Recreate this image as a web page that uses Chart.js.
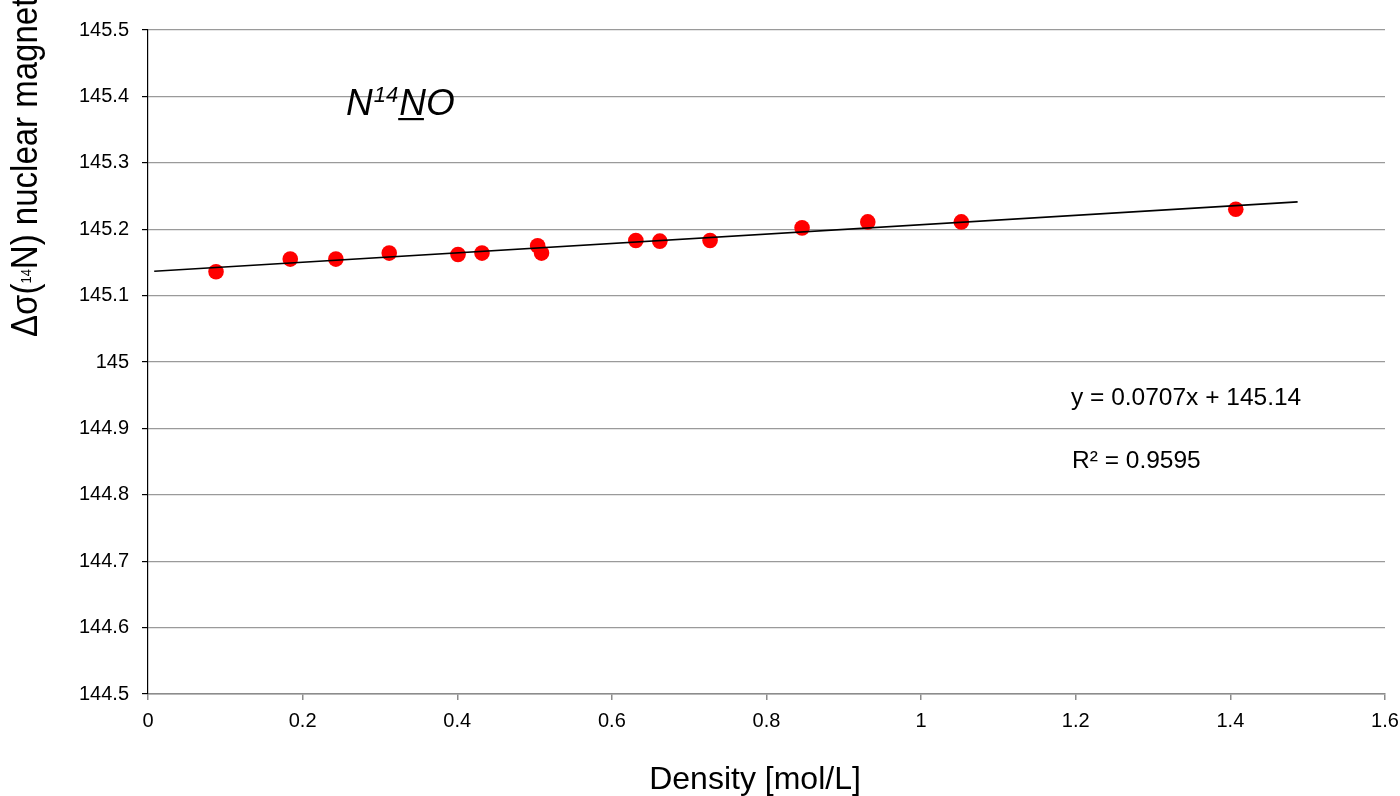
<!DOCTYPE html>
<html>
<head>
<meta charset="utf-8">
<script src="https://cdn.jsdelivr.net/npm/chart.js@4/dist/chart.umd.min.js"></script>
<style>
  html, body { margin: 0; padding: 0; background: #fff; }
  #wrap { width: 1400px; height: 796px; position: relative; }
</style>
</head>
<body>
<div id="wrap"><canvas id="myChart"></canvas></div>
<script>
// measured N14NO shielding vs gas density
const density = [0.088, 0.184, 0.243, 0.312, 0.401, 0.432, 0.504, 0.509, 0.631, 0.662, 0.727, 0.846, 0.931, 1.052, 1.407];
const shielding = [145.136, 145.155, 145.155, 145.164, 145.162, 145.164, 145.175, 145.164, 145.183, 145.182, 145.183, 145.202, 145.211, 145.211, 145.230];

// linear fit, drawn a little past the first and last point
const slope = 0.0707;
const intercept = 145.136;
const trendX = [0.008, 1.487];

const xTicks = [0, 0.2, 0.4, 0.6, 0.8, 1, 1.2, 1.4, 1.6];
const yTicks = [144.5, 144.6, 144.7, 144.8, 144.9, 145, 145.1, 145.2, 145.3, 145.4, 145.5];

const FONT = '"Liberation Sans", Arial, sans-serif';
const fmt = v => String(Number(v.toFixed(1)));

const textPlugin = {
  id: 'texts',
  afterDraw(chart) {
    const ctx = chart.ctx;
    ctx.save();
    ctx.fillStyle = '#000';
    ctx.textBaseline = 'alphabetic';

    // x axis title
    ctx.font = '32px ' + FONT;
    ctx.textAlign = 'center';
    ctx.fillText('Density [mol/L]', 755, 789);

    // y axis title, rotated, with superscript mass number
    ctx.save();
    ctx.translate(37, 337);
    ctx.scale(1.13, 1);
    ctx.rotate(-Math.PI / 2);
    ctx.textAlign = 'left';
    let x = 0;
    ctx.font = '33px ' + FONT;
    ctx.fillText('Δσ(', x, 0);
    x += ctx.measureText('Δσ(').width;
    ctx.font = '13px ' + FONT;
    ctx.fillText('14', x, -5);
    x += ctx.measureText('14').width;
    ctx.font = '33px ' + FONT;
    ctx.fillText('N) nuclear magnetic shielding [ppm]', x, 0);
    ctx.restore();

    // molecule label N14NO with underlined central N
    ctx.textAlign = 'left';
    let lx = 346;
    ctx.font = 'italic 37px ' + FONT;
    ctx.fillText('N', lx, 115);
    lx += ctx.measureText('N').width + 1;
    ctx.font = 'italic 22px ' + FONT;
    ctx.fillText('14', lx, 102);
    lx += ctx.measureText('14').width + 1;
    ctx.font = 'italic 37px ' + FONT;
    const nw = ctx.measureText('N').width;
    ctx.fillText('N', lx, 115);
    ctx.fillRect(lx - 1, 118, nw - 1, 2.2);
    lx += nw;
    ctx.fillText('O', lx, 115);

    // fit equation
    ctx.font = '24.5px ' + FONT;
    ctx.fillText('y = ' + slope + 'x + 145.14', 1071, 405);
    ctx.fillText('R² = 0.9595', 1072, 468);
    ctx.restore();
  }
};

new Chart(document.getElementById('myChart'), {
  type: 'scatter',
  data: {
    datasets: [{
      label: 'fit',
      data: trendX.map(x => ({ x: x, y: intercept + slope * x })),
      showLine: true,
      borderColor: '#000',
      borderWidth: 1.6,
      pointRadius: 0,
      order: 0
    }, {
      label: 'N14NO',
      data: density.map((d, i) => ({ x: d, y: shielding[i] })),
      backgroundColor: '#ff0000',
      borderWidth: 0,
      pointRadius: 7.8,
      order: 1
    }]
  },
  options: {
    responsive: true,
    maintainAspectRatio: false,
    animation: false,
    layout: { padding: { left: 0, top: 30, right: 15, bottom: 0 } },
    plugins: { legend: { display: false }, tooltip: { enabled: false } },
    scales: {
      x: {
        type: 'linear',
        min: 0,
        max: 1.6,
        afterFit: s => { s.height = 102; s.paddingLeft = 0; s.paddingRight = 0; },
        afterBuildTicks: s => { s.ticks = xTicks.map(v => ({ value: v })); },
        border: { color: '#8c8c8c', width: 1.5 },
        grid: { drawOnChartArea: false, tickColor: '#8c8c8c', tickLength: 6, lineWidth: 1.5 },
        ticks: { color: '#000', font: { family: FONT, size: 20 }, padding: 9, maxRotation: 0, callback: fmt }
      },
      y: {
        type: 'linear',
        min: 144.5,
        max: 145.5,
        afterFit: s => { s.width = 148; s.paddingTop = 0; s.paddingBottom = 0; },
        afterBuildTicks: s => { s.ticks = yTicks.map(v => ({ value: v })); },
        border: { color: '#000', width: 1.2 },
        grid: { color: '#9a9a9a', lineWidth: 1.2, tickColor: '#000', tickLength: 6 },
        ticks: { color: '#000', font: { family: FONT, size: 20 }, padding: 13, callback: fmt }
      }
    }
  },
  plugins: [textPlugin]
});
</script>
</body>
</html>
